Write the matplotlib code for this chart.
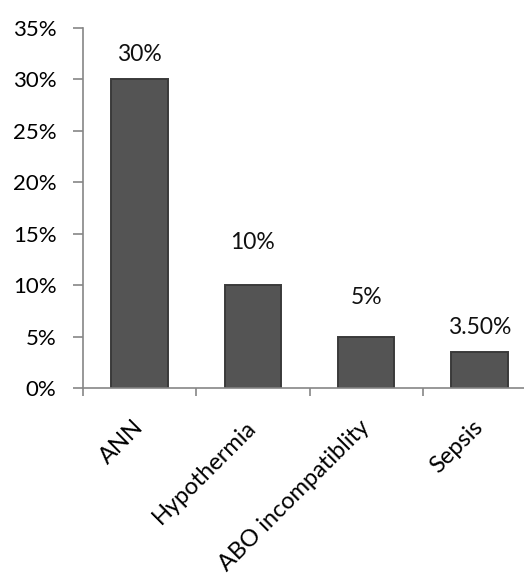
import matplotlib

matplotlib.use("Agg")
import matplotlib.pyplot as plt
from matplotlib.ticker import FixedLocator, PercentFormatter

categories = ["ANN", "Hypothermia", "ABO incompatiblity", "Sepsis"]
values = [30, 10, 5, 3.5]
value_labels = ["30%", "10%", "5%", "3.50%"]
yticks = [0, 5, 10, 15, 20, 25, 30, 35]

# label offsets above the bar tops (points), dragged by hand in the original
label_offsets = [18, 31, 28, 18]

plt.rcParams["font.family"] = ["Lato", "DejaVu Sans"]

fig = plt.figure(figsize=(5.24, 5.74), dpi=100)
ax = fig.add_axes([83 / 524, 186 / 574, 453 / 524, 360 / 574])

x = list(range(len(categories)))
ax.bar(x, values, width=0.5, color="#545454", edgecolor="#3a3a3a", linewidth=1.4)

for xi, v, lab, off in zip(x, values, value_labels, label_offsets):
    ax.annotate(
        lab,
        (xi, v),
        xytext=(0, off),
        textcoords="offset points",
        ha="center",
        va="center",
        fontsize=16.5,
        color="#111111",
    )

ax.set_xlim(-0.5, len(categories) - 0.5)
ax.set_ylim(0, 35)
ax.set_yticks(yticks)
ax.yaxis.set_major_formatter(PercentFormatter(decimals=0))

ax.set_xticks(x)
ax.set_xticklabels(categories, rotation=45, ha="right", va="center",
                   rotation_mode="anchor")
ax.xaxis.set_minor_locator(FixedLocator([i - 0.5 for i in range(len(categories) + 1)]))
ax.tick_params(axis="x", which="major", length=0, pad=26, labelsize=17)
ax.tick_params(axis="x", which="minor", length=6, color="#868686", width=1.2)
ax.tick_params(axis="y", length=7, color="#868686", width=1.2, pad=12, labelsize=16)

for side in ["top", "right"]:
    ax.spines[side].set_visible(False)
for side in ["left", "bottom"]:
    ax.spines[side].set_color("#868686")
    ax.spines[side].set_linewidth(1.2)

fig.savefig("out.png", dpi=100)
